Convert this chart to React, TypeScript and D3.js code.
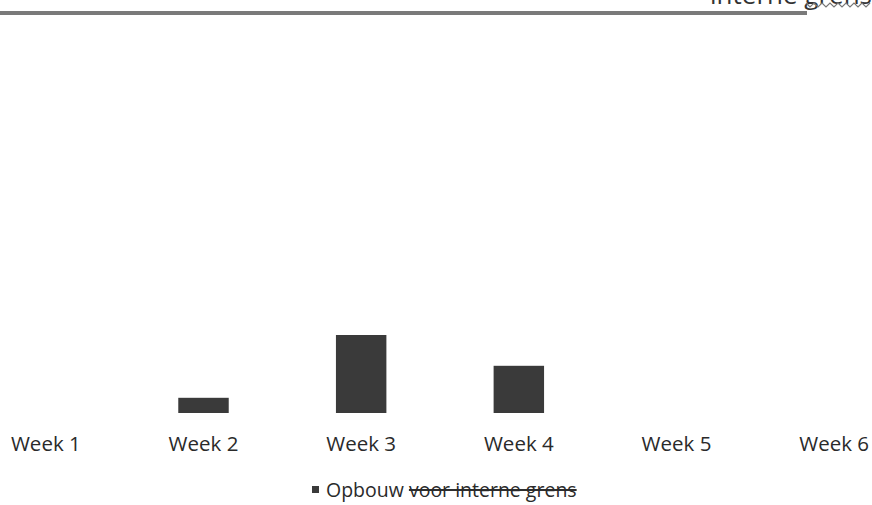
import React from "react";
import * as d3 from "d3";

const categories = ["Week 1", "Week 2", "Week 3", "Week 4", "Week 5", "Week 6"];
const opbouw: (number | null)[] = [null, 3.8, 19.5, 11.8, null, null];
const interneGrens = 100;
const legendMain = "Opbouw ";
const legendStruck = "voor interne grens";
const topLabel = "interne grens";

const W = 872;
const H = 505;

export default function App() {
  const x = d3.scaleBand<string>().domain(categories).range([-33, 913]).paddingInner(0.68).paddingOuter(0.34);
  const y = d3.scaleLinear().domain([0, 100]).range([413, 13]);
  const xc = (c: string) => (x(c) as number) + x.bandwidth() / 2;

  const wave = d3.range(0, 17).map((i) => [806 + i * 4, i % 2 === 0 ? 3 : 7] as [number, number]);
  const waveLine = d3.line();

  return (
    <svg width={W} height={H} style={{ position: "absolute", left: 0, top: 0, background: "#fff" }}
      fontFamily="'Open Sans', sans-serif">
      <line x1={0} x2={807} y1={y(interneGrens)} y2={y(interneGrens)} stroke="#7a7a7a" strokeWidth={4} />
      <text x={872} y={4} textAnchor="end" fontSize={26} fill="#333">{topLabel}</text>
      <path d={waveLine(wave) || ""} fill="none" stroke="#777" strokeWidth={1.2} />
      {categories.map((c, i) => {
        const v = opbouw[i];
        if (v == null) return null;
        return (
          <rect key={c} x={x(c)} y={y(v)} width={x.bandwidth()} height={y(0) - y(v)} fill="#3a3a3a" />
        );
      })}
      {categories.map((c) => (
        <text key={c} x={xc(c)} y={451} textAnchor="middle" fontSize={20.5} fill="#2a2a2a">{c}</text>
      ))}
      <rect x={312} y={486} width={7} height={7} fill="#3a3a3a" />
      <text x={326} y={497} fontSize={19.5} fill="#2a2a2a">
        <tspan>{legendMain}</tspan>
        <tspan textDecoration="line-through" style={{ textDecoration: "line-through" }}>{legendStruck}</tspan>
      </text>
    </svg>
  );
}
